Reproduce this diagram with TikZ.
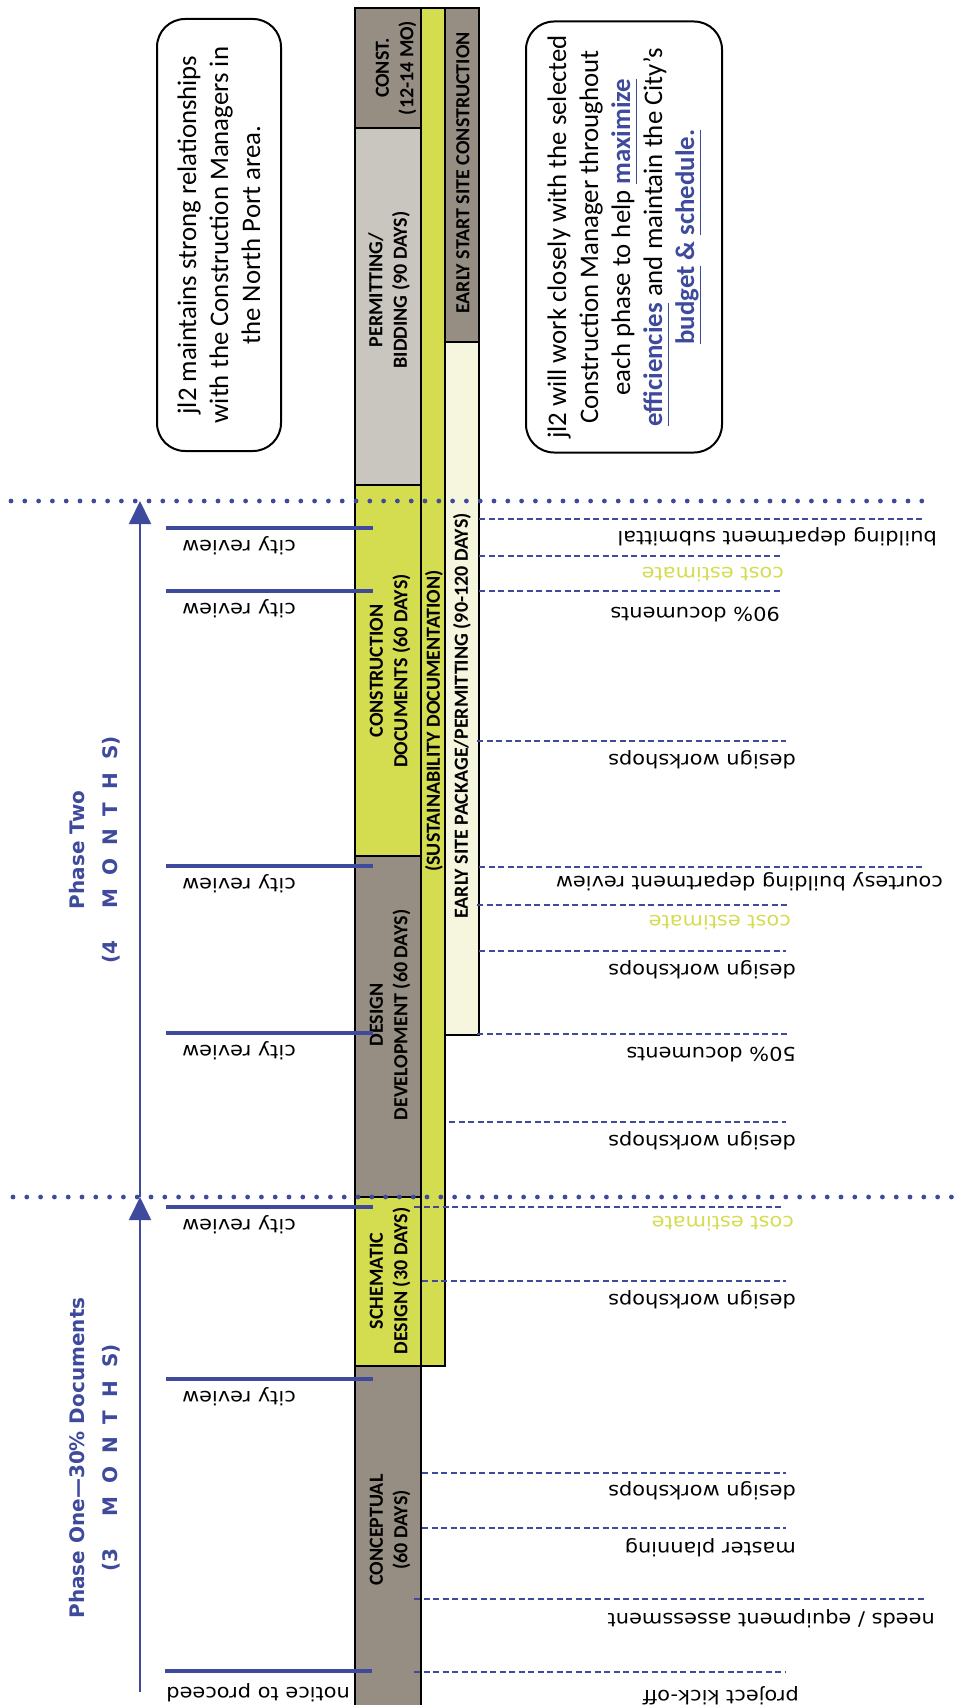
\documentclass[tikz,border=0pt]{standalone}
\usepackage{fontspec}
\usetikzlibrary{arrows.meta}

\newfontfamily\carlito{Carlito}
\newfontfamily\dejavu{DejaVu Sans}
\newfontfamily\dejavuwide[FakeStretch=1.1]{DejaVu Sans}

\definecolor{colgray}{RGB}{150,142,131}
\definecolor{collight}{RGB}{201,198,192}
\definecolor{colyellow}{RGB}{212,220,80}
\definecolor{colcream}{RGB}{246,246,222}
\definecolor{lnblue}{RGB}{62,74,156}

\newcommand{\lblfont}{\carlito\bfseries\fontsize{20bp}{24.5bp}\selectfont}
\newcommand{\notefont}{\carlito\fontsize{26.8bp}{32bp}\selectfont}
\newcommand{\eventfont}{\dejavuwide\fontsize{19bp}{22bp}\selectfont}
\newcommand{\phasefont}{\dejavu\bfseries\fontsize{20bp}{33bp}\selectfont}
\newcommand{\kw}[1]{\textcolor{lnblue}{\bfseries\underline{#1\vphantom{g}}}}
\newcommand{\mgap}{\hspace{13bp}}
\newcommand{\Mgap}{\hspace{32bp}}

\tikzset{
  colbox/.style={draw=black, line width=2bp},
  lbl/.style={rotate=90, align=center, font=\lblfont, inner sep=0pt},
  evline/.style={lnblue, line width=1.6bp, dash pattern=on 6bp off 3.5bp},
  evlbl/.style={rotate=180, anchor=west, font=\eventfont, inner sep=0pt, text height=0.75em, text depth=0.25em},
  review/.style={lnblue, line width=4bp},
  cutline/.style={lnblue, line width=4.8bp, line cap=round, dash pattern=on 0bp off 13.8bp},
  phase/.style={rotate=90, align=center, font=\phasefont, text=lnblue, inner sep=0pt},
  note/.style={draw, line width=2bp, rounded corners=28bp, rotate=90, align=center, font=\notefont, inner sep=0pt}
}

\begin{document}
\begin{tikzpicture}[x=1bp,y=-1bp]

\useasboundingbox (0,0) rectangle (964,1705);

% main column
\draw[colbox, fill=colgray]   (355,8)    rectangle (421,128);
\draw[colbox, fill=collight]  (355,128)  rectangle (421,485);
\draw[colbox, fill=colyellow] (355,485)  rectangle (421,856);
\draw[colbox, fill=colgray]   (355,856)  rectangle (421,1197);
\draw[colbox, fill=colyellow] (355,1197) rectangle (421,1366);
\draw[colbox, fill=colgray]   (355,1366) rectangle (421,1708);

% sustainability and early site columns
\draw[colbox, fill=colyellow] (421,8)   rectangle (445,1366);
\draw[colbox, fill=colgray]   (445,8)   rectangle (479,342);
\draw[colbox, fill=colcream]  (445,342) rectangle (479,1035);

\node[lbl] (const)   at (396,68)   {CONST.\\(12-14 MO)};
\node[lbl] (permit)  at (389,290)  {PERMITTING/\\BIDDING (90 DAYS)};
\node[lbl] (cd)      at (390,671)  {CONSTRUCTION\\DOCUMENTS (60 DAYS)};
\node[lbl] (dd)      at (390,1015) {DESIGN\\DEVELOPMENT (60 DAYS)};
\node[lbl] (sd)      at (390,1281) {SCHEMATIC\\DESIGN (30 DAYS)};
\node[lbl] (concept) at (390,1530) {CONCEPTUAL\\(60 DAYS)};
\node[lbl] (sust)    at (434,721)  {(SUSTAINABILITY DOCUMENTATION)};
\node[lbl] (early)   at (463,173)  {EARLY START SITE CONSTRUCTION};
\node[lbl] (esp)     at (462,716)  {EARLY SITE PACKAGE/PERMITTING (90-120 DAYS)};

% milestones on the right
\foreach \y/\xa/\yt in {1281/422/1297, 1473/422/1488, 1122/449/1138, 951/479/967, 741/477/757}
{
    \draw[evline] (\xa,\y) -- (786,\y);
    \node[evlbl] (dw\y) at (796,\yt) {design workshops};
}

\draw[evline] (414,1207) -- (784,1207);
\node[evlbl, text=colyellow] (ce1) at (794,1219) {cost estimate};
\draw[evline] (422,1528) -- (786,1528);
\node[evlbl] (master) at (796,1545) {master planning};
\draw[evline] (414,1599) -- (925,1599);
\node[evlbl] (needs) at (935,1616) {needs / equipment assessment};
\draw[evline] (414,1672) -- (786,1672);
\node[evlbl] (kickoff) at (799,1693) {project kick-off};

\draw[evline] (477,1034) -- (789,1034);
\node[evlbl] (doc50) at (796,1050) {50\% documents};
\draw[evline] (477,905) -- (789,905);
\node[evlbl, text=colyellow] (ce2) at (791,918) {cost estimate};
\draw[evline] (479,867) -- (925,867);
\node[evlbl] (courtesy) at (943,879) {courtesy building department review};
\draw[evline] (479,591) -- (781,591);
\node[evlbl] (doc90) at (780,610) {90\% documents};
\draw[evline] (479,556) -- (783,556);
\node[evlbl, text=colyellow] (ce3) at (784,570) {cost estimate};
\draw[evline] (479,519) -- (925,519);
\node[evlbl] (submit) at (937,534) {building department submittal};

% city reviews on the left
\foreach \y in {528,591,866,1033,1207,1379}
{
    \draw[review] (166,\y) -- (373,\y);
    \node[evlbl] (cr\y) at (296,{\y+15}) {city review};
}
\draw[review] (165,1671) -- (372,1671);
\node[evlbl] (ntp) at (350,1690) {notice to proceed};

% phases
\coordinate (p1bot) at (140,1692);
\coordinate (p1top) at (140,1197);
\coordinate (p2top) at (140,501);
\draw[lnblue, line width=1.8bp, -{Triangle[length=23bp,width=22bp]}] (p1bot) -- (p1top);
\draw[lnblue, line width=1.8bp, -{Triangle[length=23bp,width=22bp]}] (p1top) -- (p2top);

\draw[cutline] (11,501) -- (926,501);
\draw[cutline] (13,1197) -- (961,1197);

\node[phase] (ph1) at (95,1458) {Phase One—30\% Documents\\(3\Mgap M\mgap O\mgap N\mgap T\mgap H\mgap S)};
\node[phase] (ph2) at (95,850) {Phase Two\\(4\Mgap M\mgap O\mgap N\mgap T\mgap H\mgap S)};

% notes
\node[note, minimum width=432bp, minimum height=124bp] (relnote) at (219,235)
    {jl2 maintains strong relationships\\with the Construction Managers in\\the North Port area.};
\node[note, minimum width=431bp, minimum height=196bp] (cmnote) at (624,237)
    {jl2 will work closely with the selected\\Construction Manager throughout\\each phase to help \kw{maximize}\\\kw{efficiencies} and maintain the City’s\\\kw{budget} \textcolor{lnblue}{\bfseries\&} \kw{schedule.}};

\end{tikzpicture}
\end{document}
